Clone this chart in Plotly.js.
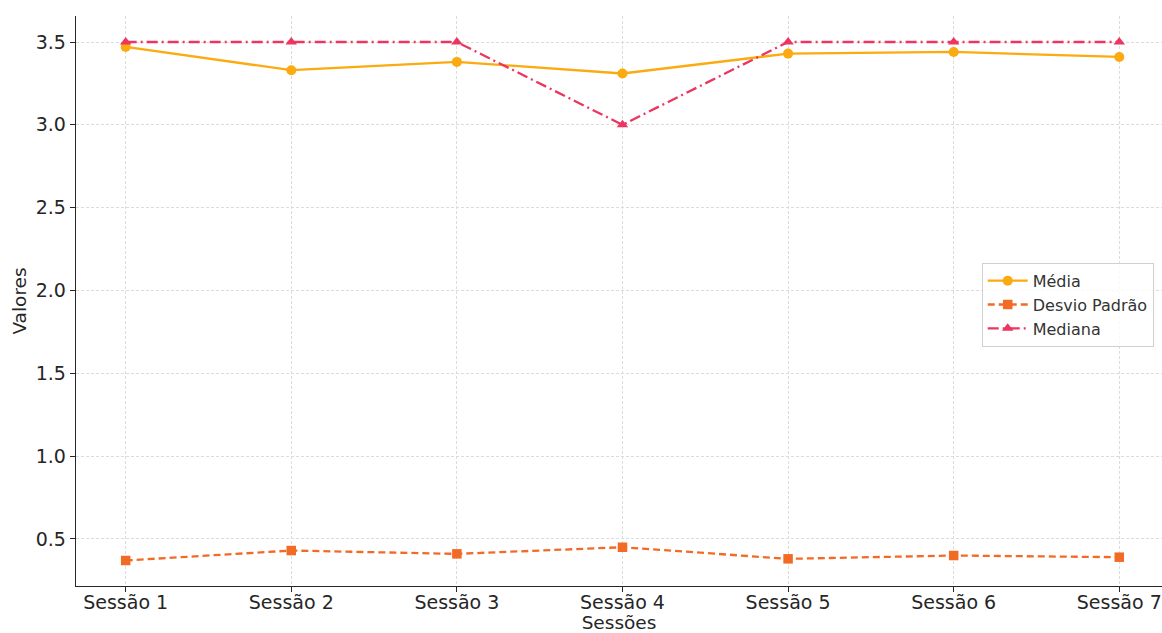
<!DOCTYPE html>
<html>
<head>
<meta charset="utf-8">
<script src="https://cdn.plot.ly/plotly-3.0.1.min.js"></script>
<style>html,body{margin:0;padding:0;background:#fff;}#chart{width:1162px;height:633px;}</style>
</head>
<body>
<div id="chart"></div>
<script>
const sessoes = ["Sessão 1","Sessão 2","Sessão 3","Sessão 4","Sessão 5","Sessão 6","Sessão 7"];
const media = [3.47, 3.33, 3.38, 3.31, 3.43, 3.44, 3.41];
const desvioPadrao = [0.37, 0.43, 0.41, 0.45, 0.38, 0.40, 0.39];
const mediana = [3.5, 3.5, 3.5, 3.0, 3.5, 3.5, 3.5];
const yTicks = [0.5, 1.0, 1.5, 2.0, 2.5, 3.0, 3.5];

const xIdx = sessoes.map((_, i) => i);

const traces = [
  {x: xIdx, y: media, name: "Média", mode: "lines+markers",
   line: {color: "#FBAA0F", width: 2.3, dash: "solid"},
   marker: {symbol: "circle", size: 10, color: "#FBAA0F"}},
  {x: xIdx, y: desvioPadrao, name: "Desvio Padrão", mode: "lines+markers",
   line: {color: "#F26A24", width: 2.3, dash: "7px,4px"},
   marker: {symbol: "square", size: 9.5, color: "#F26A24"}},
  {x: xIdx, y: mediana, name: "Mediana", mode: "lines+markers",
   line: {color: "#EC3560", width: 2.3, dash: "11px,4px,2px,4px"},
   marker: {symbol: "triangle-up", size: 10, color: "#EC3560"}}
];

const layout = {
  width: 1162, height: 633,
  margin: {l: 76, r: 0, t: 16, b: 47},
  paper_bgcolor: "#fff", plot_bgcolor: "#fff",
  font: {family: "DejaVu Sans", color: "#262626", size: 19},
  showlegend: true,
  legend: {x: 0.834, y: 0.567, xanchor: "left", yanchor: "top",
           bordercolor: "#d0d0d0", borderwidth: 1, bgcolor: "rgba(255,255,255,0.8)",
           font: {size: 16, color: "#333"}, tracegroupgap: 0, itemwidth: 40},
  xaxis: {
    range: [-0.3, 6.258], tickvals: xIdx, ticktext: sessoes,
    showline: true, linecolor: "#262626", linewidth: 1.3, mirror: false,
    ticks: "outside", ticklen: 5, tickcolor: "#262626", ticklabelstandoff: -6,
    showgrid: true, gridcolor: "#dcdcdc", griddash: "3px,2px", gridwidth: 1,
    zeroline: false, tickfont: {size: 19}, automargin: false,
    title: {text: "Sessões", font: {size: 18.5}, standoff: 0}
  },
  yaxis: {
    range: [0.216, 3.657], tickvals: yTicks, ticktext: yTicks.map(v => v.toFixed(1)),
    showline: true, linecolor: "#262626", linewidth: 1.3, mirror: false,
    ticks: "outside", ticklen: 5, tickcolor: "#262626",
    showgrid: true, gridcolor: "#dcdcdc", griddash: "3px,2px", gridwidth: 1,
    zeroline: false, tickfont: {size: 19}, automargin: false,
    title: {text: "Valores", font: {size: 18.5}, standoff: 4}
  }
};

Plotly.newPlot("chart", traces, layout, {displayModeBar: false, staticPlot: true});
</script>
</body>
</html>
